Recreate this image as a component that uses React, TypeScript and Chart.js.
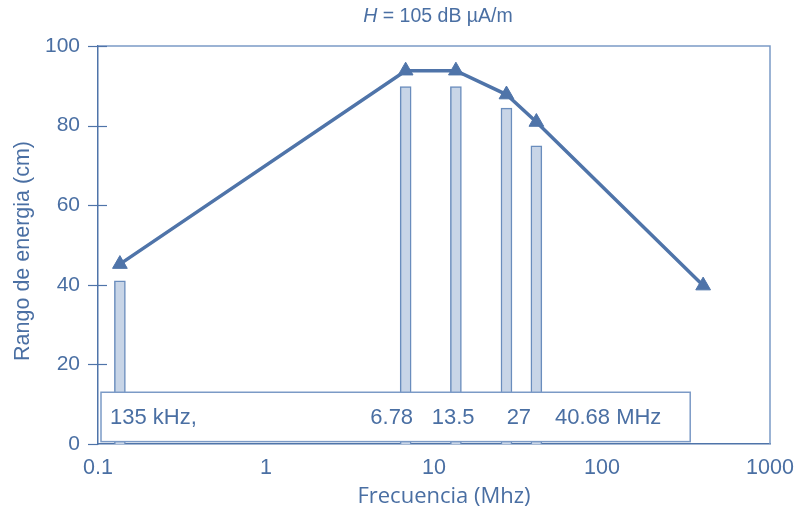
import React, { useEffect, useRef } from "react";
import { Chart, registerables } from "chart.js";

Chart.register(...registerables);

const frequencies = [0.135, 6.78, 13.5, 27, 40.68];
const barValues = [41, 89.8, 89.8, 84.4, 74.9];
const lineFreqs = [0.135, 6.78, 13.5, 27, 40.68, 400];
const lineValues = [45.2, 93.8, 93.8, 87.8, 80.9, 39.8];
const xTicks = [0.1, 1, 10, 100, 1000];
const xTickLabels = ["0.1", "1", "10", "100", "1000"];
const yTicks = [0, 20, 40, 60, 80, 100];
const boxLabels = ["135 kHz,", "6.78", "13.5", "27", "40.68 MHz"];

const TEXT = "#4a6fa3";
const LINE = "#4f74a9";
const AXIS = "#7b9ac6";
const BAR_FILL = "#c8d5e7";
const BAR_BORDER = "#6a8dbd";
const FONT = "'Liberation Sans', Arial, sans-serif";

const decor = {
  id: "decor",
  afterDatasetsDraw(chart: any) {
    const { ctx, chartArea, scales } = chart;
    const x = scales.x;
    const y = scales.y;
    ctx.save();
    // frame top/right
    ctx.strokeStyle = AXIS;
    ctx.lineWidth = 1.5;
    ctx.beginPath();
    ctx.moveTo(chartArea.left, chartArea.top);
    ctx.lineTo(chartArea.right, chartArea.top);
    ctx.lineTo(chartArea.right, chartArea.bottom);
    ctx.stroke();
    // y ticks crossing axis
    ctx.strokeStyle = LINE;
    ctx.lineWidth = 1.2;
    for (const v of yTicks) {
      const py = Math.round(y.getPixelForValue(v)) + 0.5;
      ctx.beginPath();
      ctx.moveTo(chartArea.left - 10, py);
      ctx.lineTo(chartArea.left + (v === 0 ? 0 : 9), py);
      ctx.stroke();
    }
    // label box
    const bx1 = chartArea.left + 3;
    const bx2 = x.getPixelForValue(335);
    const by1 = y.getPixelForValue(13);
    const by2 = y.getPixelForValue(0.6);
    ctx.fillStyle = "#ffffff";
    ctx.fillRect(bx1, by1, bx2 - bx1, by2 - by1);
    ctx.strokeStyle = AXIS;
    ctx.lineWidth = 1.5;
    ctx.strokeRect(bx1, by1, bx2 - bx1, by2 - by1);
    ctx.fillStyle = TEXT;
    ctx.font = `22px ${FONT}`;
    ctx.textBaseline = "middle";
    const ty = (by1 + by2) / 2 + 1;
    ctx.textAlign = "left";
    ctx.fillText(boxLabels[0], bx1 + 9, ty);
    const anchors = [5.6, 13.0, 32.0];
    ctx.textAlign = "center";
    for (let i = 1; i <= 3; i++) {
      ctx.fillText(boxLabels[i], x.getPixelForValue(anchors[i - 1]), ty);
    }
    ctx.textAlign = "left";
    ctx.fillText(boxLabels[4], x.getPixelForValue(52.5), ty);
    ctx.restore();
  },
  afterDraw(chart: any) {
    const { ctx } = chart;
    ctx.save();
    ctx.fillStyle = TEXT;
    ctx.textBaseline = "middle";
    ctx.font = `italic 19.5px ${FONT}`;
    const h = "H";
    const wH = ctx.measureText(h).width;
    ctx.font = `19.5px ${FONT}`;
    const rest = " = 105 dB \u00b5A/m";
    const wR = ctx.measureText(rest).width;
    const cx = 438;
    const sx = cx - (wH + wR) / 2;
    ctx.textAlign = "left";
    ctx.font = `italic 19.5px ${FONT}`;
    ctx.fillText(h, sx, 17);
    ctx.font = `19.5px ${FONT}`;
    ctx.fillText(rest, sx + wH, 17);
    ctx.textAlign = "center";
    ctx.font = `22px 'Open Sans', sans-serif`;
    ctx.fillText("Frecuencia (Mhz)", 444, 497);
    ctx.translate(23, 251);
    ctx.rotate(-Math.PI / 2);
    ctx.font = `21.5px ${FONT}`;
    ctx.fillText("Rango de energia (cm)", 0, 0);
    ctx.restore();
  },
};

export default function App() {
  const ref = useRef<HTMLCanvasElement>(null);
  useEffect(() => {
    document.body.style.margin = "0";
    const chart = new Chart(ref.current!, {
      type: "bar",
      data: {
        datasets: [
          {
            type: "line",
            data: lineFreqs.map((f, i) => ({ x: f, y: lineValues[i] })),
            borderColor: LINE,
            backgroundColor: LINE,
            borderWidth: 3.5,
            pointStyle: "triangle",
            pointRadius: 8.5,
            pointBorderWidth: 1,
            pointBackgroundColor: LINE,
            pointBorderColor: LINE,
            order: 0,
          } as any,
          {
            type: "bar",
            data: frequencies.map((f, i) => ({ x: f, y: barValues[i] })),
            backgroundColor: BAR_FILL,
            borderColor: BAR_BORDER,
            borderWidth: 1.5,
            barThickness: 11,
            grouped: false,
            order: 1,
          } as any,
        ],
      },
      options: {
        responsive: false,
        animation: false,
        layout: { padding: { top: 46, right: 27, left: 0, bottom: 0 } },
        plugins: { legend: { display: false }, tooltip: { enabled: false }, title: { display: false } },
        scales: {
          x: {
            type: "logarithmic",
            min: 0.1,
            max: 1000,
            grid: { display: false },
            border: { display: true, color: LINE, width: 1.5 },
            afterBuildTicks: (s: any) => {
              s.ticks = xTicks.map((v) => ({ value: v }));
            },
            afterFit: (s: any) => {
              s.height = 70;
            },
            ticks: {
              color: TEXT,
              font: { size: 21.5, family: FONT },
              padding: 3,
              maxRotation: 0,
              autoSkip: false,
              callback: (v: any) => {
                const i = xTicks.indexOf(Number(v));
                return i >= 0 ? xTickLabels[i] : "";
              },
            },
          },
          y: {
            min: 0,
            max: 100,
            grid: { display: false },
            border: { display: true, color: LINE, width: 1.5 },
            afterBuildTicks: (s: any) => {
              s.ticks = yTicks.map((v) => ({ value: v }));
            },
            afterFit: (s: any) => {
              s.width = 98;
            },
            ticks: {
              color: TEXT,
              font: { size: 21, family: FONT },
              padding: 10,
            },
          },
        },
      },
      plugins: [decor],
    });
    return () => chart.destroy();
  }, []);
  return (
    <div style={{ width: 797, height: 514, background: "#fff" }}>
      <canvas ref={ref} width={797} height={514} />
    </div>
  );
}
